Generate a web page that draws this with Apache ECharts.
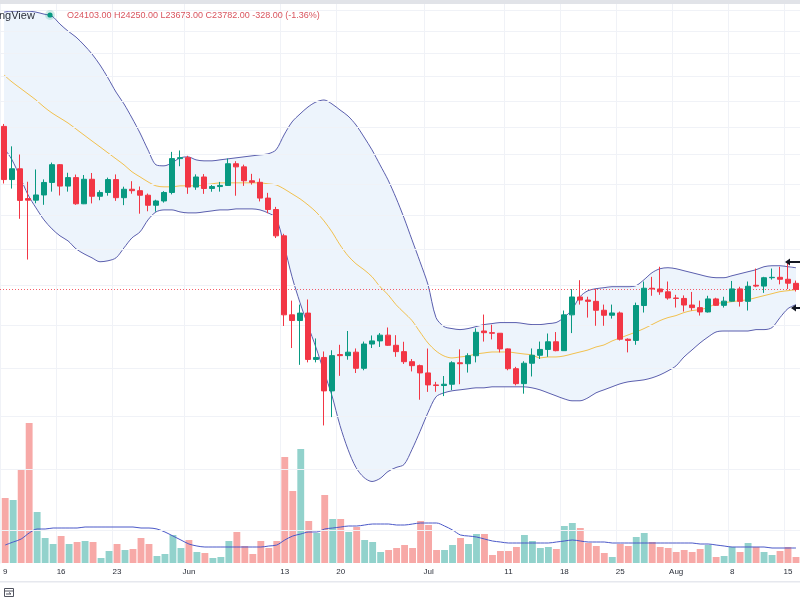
<!DOCTYPE html>
<html><head><meta charset="utf-8">
<script src="https://cdn.jsdelivr.net/npm/echarts@6/dist/echarts.min.js"></script>
<style>html,body{margin:0;padding:0;background:#fff;overflow:hidden}#c{width:800px;height:600px}</style>
</head><body><div id="c"></div>
<script>
const dates = ['05-09','05-10','05-11','05-12','05-13','05-14','05-15','05-16','05-17','05-18','05-19','05-20','05-21','05-22','05-23','05-24','05-25','05-26','05-27','05-28','05-29','05-30','05-31',
'06-01','06-02','06-03','06-04','06-05','06-06','06-07','06-08','06-09','06-10','06-11','06-12','06-13','06-14','06-15','06-16','06-17','06-18','06-19','06-20','06-21','06-22','06-23','06-24','06-25','06-26','06-27','06-28','06-29','06-30',
'07-01','07-02','07-03','07-04','07-05','07-06','07-07','07-08','07-09','07-10','07-11','07-12','07-13','07-14','07-15','07-16','07-17','07-18','07-19','07-20','07-21','07-22','07-23','07-24','07-25','07-26','07-27','07-28','07-29','07-30','07-31',
'08-01','08-02','08-03','08-04','08-05','08-06','08-07','08-08','08-09','08-10','08-11','08-12','08-13','08-14','08-15','08-16'];

const open  = [34060,30296,31023,29050,28950,29284,30102,31305,29863,30425,28720,30314,29201,29445,30293,29109,29655,29562,29267,28627,28900,29445,31726,
31792,29799,30467,29704,29832,29906,31370,31155,30214,30112,29083,28360,26762,22487,22206,22572,20381,20471,19017,20600,20553,20710,19987,21085,21231,21502,21027,20735,20280,20104,
19785,19269,19243,19297,20231,20190,20548,21700,21620,21592,20860,19970,19323,20212,20569,20836,21190,20779,22485,23389,23231,23164,22714,22466,22579,21310,21254,22952,23843,23804,23656,
23336,23314,22978,22846,22630,23289,22961,23175,23809,23164,24000,23957,24402,24424,24319,24103];
const high  = [34245,32596,32014,30150,30977,30306,31450,31350,30752,30630,30600,30737,29586,30425,30640,29823,30186,29834,29375,28977,29530,32200,32300,
31926,30644,30663,29933,30137,31730,31546,31307,30680,30365,29420,28525,26883,23200,23000,23260,21346,20743,20797,21050,21700,20880,21200,21487,21600,21868,21500,21190,20400,20150,
20876,19400,19650,20300,20840,20660,21830,22500,22000,21600,20880,20050,20300,20880,21200,21580,21650,22700,23800,24270,23400,23800,23000,23000,22650,21350,23100,24200,24450,25000,24200,
23500,23470,23650,23200,23450,23350,23400,24230,23920,24200,24900,24450,24900,25000,25200,24250];
const low   = [30033,29700,27785,25400,28752,28655,29500,29250,29500,28654,28700,28744,28946,29238,28905,28635,29366,28100,28250,28224,28794,29323,31200,
29357,29618,29355,29494,29500,29882,29235,29875,29960,28870,28132,26633,21940,20900,20140,20250,20250,17622,17950,19658,20370,19780,19900,20900,20950,21000,20500,20180,19850,18650,
18975,18980,18800,19050,19300,19800,20250,21200,21300,20700,19900,19250,18900,19630,20400,20500,20750,20770,21600,23000,22350,21950,21950,22300,21250,20700,21050,22600,23450,23500,23250,
22850,22650,22700,22450,22600,22930,22850,23150,22900,22700,23900,23600,24300,24050,23800,23673];
const close = [30296,31023,28936,28950,29284,30102,31305,29863,30425,28720,30314,29201,29445,30293,29109,29655,29562,29267,28627,28900,29445,31726,31792,
29799,30467,29704,29832,29906,31370,31155,30214,30112,29083,28360,26762,22487,22206,22572,20381,20471,19017,20553,20553,20710,19987,21085,21231,21502,21027,20735,20280,20104,19785,
19269,19243,19297,20231,20190,20548,21637,21620,21592,20860,19970,19323,20212,20569,20836,21190,20779,22485,23389,23231,23164,22714,22466,22579,21310,21254,22952,23843,23804,23656,23336,
23314,22978,22846,22630,23289,22961,23175,23809,23164,23948,23957,24402,24424,24319,24110,23782];
// volume in thousands
const volume = [65,63,94,140,51,25,19,27,19,21,22,21,5,12,19,13,14,25,19,7,9,28,15,
23,11,10,5,6,22,31,17,9,22,15,22,106,72,114,42,30,68,44,44,31,36,23,21,11,13,15,18,15,42,
38,13,13,18,25,19,29,29,8,12,12,16,28,22,15,16,14,37,40,35,20,17,10,6,19,17,26,30,21,16,15,
11,13,11,14,18,6,7,16,11,20,16,11,8,12,16,6];
const volumeMA = [18,21,24,30,34,34,35,35,35,35,36,36,36,36,36,36,36,35,35,34,31,27,23,
19,17,16,16,16,16,16,16,16,16,17,18,23,27,29,31,31,34,35,36,37,37,38,39,39,39,38,38,39,40,
40,40,37,33,28,27,26,24,22,21,20,20,20,20,20,20,21,22,23,22,21,21,21,20,20,20,20,20,20,20,20,
20,20,20,19,19,18,17,16,16,16,16,16,15,15,15,15];
const bbUpper = [43813,43909,43909,43909,43813,43621,43430,42672,42021,41470,40753,39953,38996,37896,36738,35787,34697,33568,32343,31294,31225,31432,31780,
31850,31640,31570,31570,31640,31710,31780,31850,31920,31990,32060,32343,33421,34393,35004,35551,35943,36101,35787,35317,34850,34167,33275,32343,31294,30275,29101,27842,26526,25276,
24033,22350,21911,21815,21766,21815,21911,22008,22056,22105,22105,22105,22056,22008,22008,22056,22105,22350,22748,23405,23715,23820,23872,23925,23925,23925,23977,24296,24673,24891,24946,
24891,24781,24673,24564,24456,24403,24403,24510,24618,24727,24836,25001,25055,25055,25001,24946];
const bbBasis = [38146,37564,37072,36586,36101,35551,35081,34697,34317,33867,33421,32983,32557,32130,31710,31294,30816,30476,30142,29878,29813,29813,29878,
29878,29878,29944,30010,30076,30076,30076,30076,30076,30076,30010,29944,29682,29358,29037,28650,28211,27658,26995,26235,25611,25165,24836,24456,23925,23510,22995,22599,22203,21652,
21134,20766,20537,20447,20493,20537,20628,20674,20719,20719,20719,20674,20628,20583,20447,20493,20493,20537,20628,20719,20811,20949,21042,21227,21368,21509,21652,21815,22008,22203,22350,
22449,22599,22698,22748,22849,23046,23097,23149,23199,23251,23353,23457,23560,23664,23715,23767];
const bbLower = [32486,31640,30476,29294,28462,27719,27174,26760,26467,26006,25721,25495,25276,25331,25495,26063,26642,26995,27719,28211,28336,28336,28211,
28150,28150,28211,28274,28336,28336,28399,28399,28399,28336,28150,27842,26235,24456,23097,21959,20922,19835,18811,17619,16714,16062,15712,15575,15678,15921,16062,16167,16714,17389,
18129,18770,18936,19019,19061,19103,19145,19145,19188,19188,19188,19188,19188,19145,19061,18936,18811,18688,18606,18606,18729,18936,19061,19188,19314,19399,19442,19485,19571,19700,19875,
20094,20493,20811,21134,21414,21652,21699,21699,21699,21699,21766,21766,21863,22350,22798,22995];

const tickDates = ['05-09','05-16','05-23','06-01','06-13','06-20','07-01','07-11','07-18','07-25','08-01','08-08','08-15'];
const tickTexts = ['9','16','23','Jun','13','20','Jul','11','18','25','Aug','8','15'];
const priceGridLines = [14000,16000,18000,20000,22000,24000,26000,28000,30000,32000,34000,36000,38000,40000,42000,44000];

const UP = '#089981', DOWN = '#f23645', UPV = '#92d2cc', DOWNV = '#f7a9a7';
const BAND = '#5b5fae', BASIS = '#f2c14e', FILL = '#edf4fc', GRIDC = '#f0f2f7';

const n = dates.length;
const last = n - 1;
const chg = close[last] - close[last - 1];
const header = 'O' + open[last].toFixed(2) + ' H' + high[last].toFixed(2) + ' L' + low[last].toFixed(2) +
  ' C' + close[last].toFixed(2) + ' ' + chg.toFixed(2) + ' (' + (chg / close[last - 1] * 100).toFixed(2) + '%)';

const candleData = dates.map((d, i) => [open[i], close[i], low[i], high[i]]);
const volData = volume.map((v, i) => ({ value: v, itemStyle: { color: close[i] >= open[i] ? UPV : DOWNV } }));
const bandWidth = bbUpper.map((u, i) => u - bbLower[i]);
const tickSet = new Set(tickDates);
const isTick = (idx, val) => tickSet.has(val);

const chart = echarts.init(document.getElementById('c'), null, { renderer: 'canvas' });
chart.setOption({
  animation: false,
  backgroundColor: '#ffffff',
  grid: [
    { left: 0, top: -1, width: 804, height: 564.5 },
    { left: 0, top: 413, width: 804, height: 150 }
  ],
  xAxis: [
    { type: 'category', data: dates, gridIndex: 0, boundaryGap: true,
      axisLine: { show: false }, axisTick: { show: false }, axisLabel: { show: false },
      splitLine: { show: true, interval: isTick, lineStyle: { color: GRIDC, width: 1 } } },
    { type: 'category', data: dates, gridIndex: 1, boundaryGap: true,
      axisLine: { show: false }, axisTick: { show: false },
      axisLabel: { show: true, interval: isTick, margin: 5, color: '#2a2e39', fontSize: 8,
        fontFamily: 'Liberation Sans, Arial, sans-serif',
        formatter: (v) => tickTexts[tickDates.indexOf(v)] },
      splitLine: { show: false } }
  ],
  yAxis: [
    { type: 'log', gridIndex: 0, min: 13000, max: 45000, show: false, splitLine: { show: false } },
    { type: 'value', gridIndex: 1, min: 0, max: 150, show: false, splitLine: { show: false } }
  ],
  series: [
    { name: 'BB lower base', type: 'line', xAxisIndex: 0, yAxisIndex: 0, stack: 'bb', data: bbLower,
      symbol: 'none', lineStyle: { width: 0 }, silent: true, z: 1,
      markLine: { silent: true, symbol: 'none', label: { show: false },
        lineStyle: { color: GRIDC, width: 1, type: 'solid' },
        data: priceGridLines.map(v => ({ yAxis: v })) } },
    { name: 'BB fill', type: 'line', xAxisIndex: 0, yAxisIndex: 0, stack: 'bb', data: bandWidth,
      symbol: 'none', lineStyle: { width: 0 }, areaStyle: { color: FILL, opacity: 1 }, silent: true, z: 1 },
    { name: 'Volume', type: 'bar', xAxisIndex: 1, yAxisIndex: 1, data: volData, barWidth: '86%', z: 2 },
    { name: 'Volume MA', type: 'line', xAxisIndex: 1, yAxisIndex: 1, data: volumeMA, symbol: 'none',
      smooth: 0.3, lineStyle: { color: '#4a58c8', width: 1 }, z: 3 },
    { name: 'BB upper', type: 'line', xAxisIndex: 0, yAxisIndex: 0, data: bbUpper, symbol: 'none',
      smooth: 0.3, lineStyle: { color: BAND, width: 1 }, z: 4 },
    { name: 'BB lower', type: 'line', xAxisIndex: 0, yAxisIndex: 0, data: bbLower, symbol: 'none',
      smooth: 0.3, lineStyle: { color: BAND, width: 1 }, z: 4 },
    { name: 'BB basis', type: 'line', xAxisIndex: 0, yAxisIndex: 0, data: bbBasis, symbol: 'none',
      smooth: 0.3, lineStyle: { color: BASIS, width: 1 }, z: 4 },
    { name: 'Price', type: 'candlestick', xAxisIndex: 0, yAxisIndex: 0, data: candleData, barWidth: '72%', z: 5,
      itemStyle: { color: UP, color0: DOWN, borderColor: UP, borderColor0: DOWN, borderWidth: 1 },
      markLine: { silent: true, symbol: 'none', label: { show: false },
        lineStyle: { color: DOWN, width: 1, type: [1, 2], opacity: 0.8 },
        data: [{ yAxis: close[last] }] } }
  ],
  graphic: [
    { type: 'rect', shape: { x: 0, y: 0, width: 800, height: 4 }, style: { fill: '#e1e3e8' }, z: 100 },
    { type: 'text', x: -1, y: 10, style: { text: 'ngView', fill: '#2a2e39', font: '11px Liberation Sans' }, z: 100 },
    { type: 'circle', shape: { cx: 50, cy: 15, r: 5 }, style: { fill: 'rgba(8,153,129,0.18)' }, z: 100 },
    { type: 'circle', shape: { cx: 50, cy: 15, r: 2.6 }, style: { fill: UP }, z: 101 },
    { type: 'text', x: 67, y: 11, style: { text: header, fill: '#d9555f', font: '9px Liberation Sans' }, z: 100 },
    { type: 'polyline', shape: { points: [[800, 262], [788, 262]] }, style: { stroke: '#131722', lineWidth: 2 }, z: 100 },
    { type: 'polygon', shape: { points: [[785, 262], [790, 258.5], [790, 265.5]] }, style: { fill: '#131722' }, z: 100 },
    { type: 'polyline', shape: { points: [[800, 308], [795, 308]] }, style: { stroke: '#131722', lineWidth: 2 }, z: 100 },
    { type: 'polygon', shape: { points: [[791, 308], [796, 304.5], [796, 311.5]] }, style: { fill: '#131722' }, z: 100 },
    { type: 'rect', shape: { x: 0, y: 581, width: 800, height: 1.5 }, style: { fill: '#e6e8ee' }, z: 100 },
    { type: 'rect', shape: { x: 4.5, y: 588.5, width: 9, height: 8 }, style: { fill: 'none', stroke: '#50535e', lineWidth: 1 }, z: 100 },
    { type: 'polyline', shape: { points: [[4.5, 591], [13.5, 591]] }, style: { stroke: '#50535e', lineWidth: 1 }, z: 100 },
    { type: 'polyline', shape: { points: [[6, 594], [11, 594], [9, 592.5]] }, style: { stroke: '#50535e', lineWidth: 1, fill: 'none' }, z: 100 }
  ]
});
</script></body></html>
